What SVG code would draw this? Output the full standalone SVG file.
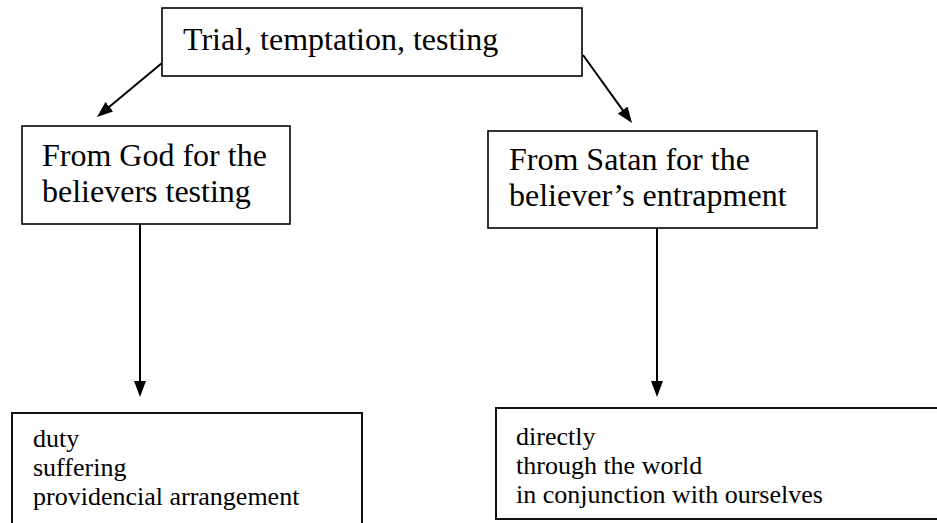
<svg xmlns="http://www.w3.org/2000/svg" width="937" height="523" viewBox="0 0 937 523">
<style>
  .box { fill: #ffffff; stroke: #000000; stroke-width: 1.6; }
  .box2 { fill: #ffffff; stroke: #111111; stroke-width: 2; }
  .big { font-family: "Liberation Serif", "Times New Roman", serif; font-size: 32px; fill: #000000; }
  .small { font-family: "Liberation Serif", "Times New Roman", serif; font-size: 26px; fill: #000000; }
  .conn { stroke: #000000; stroke-width: 2; fill: none; marker-end: url(#arrow); }
</style>
<defs>
  <marker id="arrow" viewBox="0 0 16 12" refX="12" refY="6" markerWidth="16" markerHeight="12" markerUnits="userSpaceOnUse" orient="auto">
    <path d="M0,0 L16,6 L0,12 z" fill="#000000"/>
  </marker>
</defs>
<rect width="937" height="523" fill="#ffffff"/>
<g id="connectors">
  <line class="conn" x1="162" y1="63" x2="100.1" y2="114.4"/>
  <line class="conn" x1="583" y1="55" x2="629.7" y2="119.8"/>
  <line class="conn" x1="140" y1="224" x2="140" y2="393"/>
  <line class="conn" x1="657" y1="228" x2="657" y2="393"/>
</g>
<g id="node-top">
  <rect class="box" x="162" y="8" width="420" height="68"/>
  <text class="big" x="183" y="50">Trial, temptation, testing</text>
</g>
<g id="node-god">
  <rect class="box" x="22" y="126" width="268" height="98"/>
  <text class="big" x="42" y="166">From God for the</text>
  <text class="big" x="42" y="202">believers testing</text>
</g>
<g id="node-satan">
  <rect class="box" x="488" y="131" width="329" height="97"/>
  <text class="big" x="509" y="170">From Satan for the</text>
  <text class="big" x="509" y="206">believer’s entrapment</text>
</g>
<g id="node-god-list">
  <rect class="box2" x="12" y="413" width="350" height="130"/>
  <text class="small" x="33" y="447">duty</text>
  <text class="small" x="33" y="476">suffering</text>
  <text class="small" x="33" y="505">providencial arrangement</text>
</g>
<g id="node-satan-list">
  <rect class="box2" x="496" y="408" width="460" height="111"/>
  <text class="small" x="516" y="445">directly</text>
  <text class="small" x="516" y="474">through the world</text>
  <text class="small" x="516" y="503">in conjunction with ourselves</text>
</g>
</svg>
